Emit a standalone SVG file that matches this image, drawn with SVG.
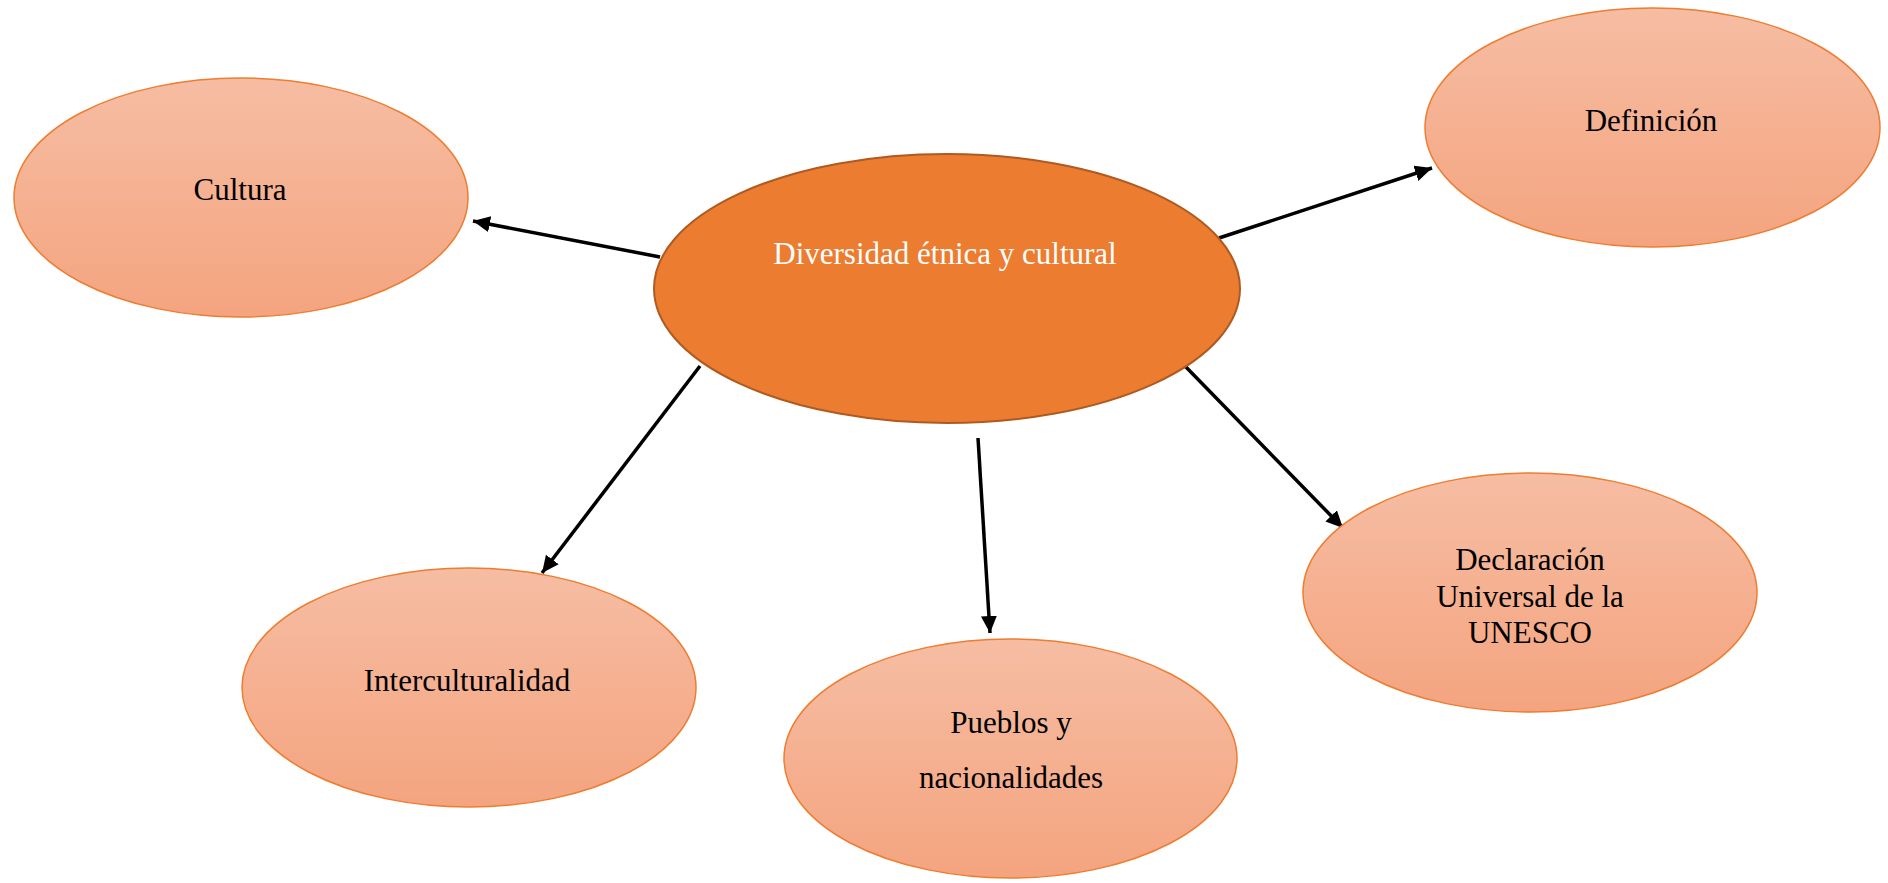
<svg xmlns="http://www.w3.org/2000/svg" width="1888" height="883" viewBox="0 0 1888 883">
  <style>
    .child { fill: url(#childGrad); stroke: #ED7D31; stroke-width: 1.5; }
    .center { fill: #EC7C30; stroke: #AE5A21; stroke-width: 2; }
    .lbl { font-family: "Liberation Serif", "Times New Roman", serif; font-size: 31px; fill: #000; text-anchor: middle; }
    .lblw { font-family: "Liberation Serif", "Times New Roman", serif; font-size: 31px; fill: #FFFFFF; text-anchor: middle; }
    .conn { stroke: #000; stroke-width: 3.5; fill: none; marker-end: url(#arrow); }
  </style>
  <defs>
    <linearGradient id="childGrad" x1="0" y1="0" x2="0" y2="1">
      <stop offset="0" stop-color="#F6BDA3"/>
      <stop offset="1" stop-color="#F4A47F"/>
    </linearGradient>
    <marker id="arrow" markerUnits="userSpaceOnUse" markerWidth="20" markerHeight="18" refX="17" refY="8" orient="auto">
      <path d="M0,0 L17,8 L0,16 z" fill="#000"/>
    </marker>
  </defs>
  <rect width="1888" height="883" fill="#FFFFFF"/>

  <g id="connectors">
    <line class="conn" x1="660" y1="257" x2="473" y2="221"/>
    <line class="conn" x1="1219" y1="238" x2="1432" y2="168"/>
    <line class="conn" x1="700" y1="366" x2="542" y2="573"/>
    <line class="conn" x1="978" y1="438" x2="990" y2="633"/>
    <line class="conn" x1="1184" y1="365" x2="1343" y2="528"/>
  </g>

  <g id="node-center">
    <ellipse class="center" cx="947" cy="288.5" rx="293" ry="134.5"/>
    <text class="lblw" x="945" y="264">Diversidad étnica y cultural</text>
  </g>

  <g id="node-cultura">
    <ellipse class="child" cx="241" cy="197.5" rx="227" ry="119.5"/>
    <text class="lbl" x="240" y="200">Cultura</text>
  </g>

  <g id="node-definicion">
    <ellipse class="child" cx="1652.5" cy="127.5" rx="227.5" ry="119.5"/>
    <text class="lbl" x="1651" y="131">Definición</text>
  </g>

  <g id="node-interculturalidad">
    <ellipse class="child" cx="469" cy="687.5" rx="227" ry="119.5"/>
    <text class="lbl" x="467" y="691">Interculturalidad</text>
  </g>

  <g id="node-pueblos">
    <ellipse class="child" cx="1010.5" cy="758.5" rx="226.5" ry="119.5"/>
    <text class="lbl" x="1011" y="733">Pueblos y</text>
    <text class="lbl" x="1011" y="788">nacionalidades</text>
  </g>

  <g id="node-declaracion">
    <ellipse class="child" cx="1530" cy="592.5" rx="227" ry="119.5"/>
    <text class="lbl" x="1530" y="570">Declaración</text>
    <text class="lbl" x="1530" y="607">Universal de la</text>
    <text class="lbl" x="1530" y="643">UNESCO</text>
  </g>
</svg>
